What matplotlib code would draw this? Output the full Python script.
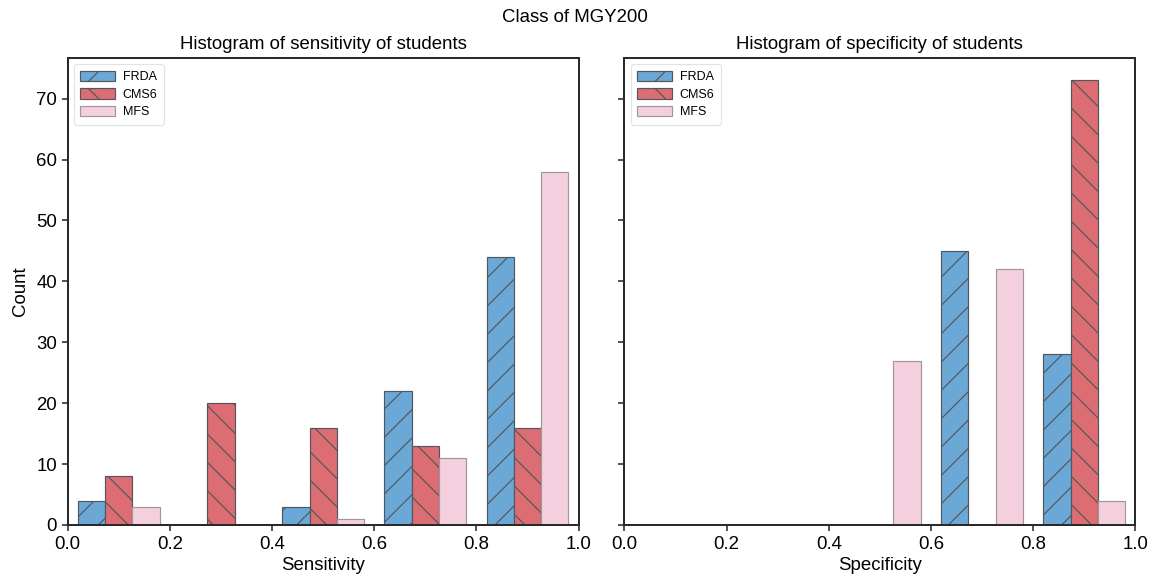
import numpy as np
import matplotlib
matplotlib.use("Agg")
import matplotlib.pyplot as plt

plt.rcParams['font.family'] = ['Liberation Sans', 'DejaVu Sans']
plt.rcParams['hatch.linewidth'] = 0.5

# data
bin_edges = [0.0, 0.2, 0.4, 0.6, 0.8, 1.0]
series = ['FRDA', 'CMS6', 'MFS']
sens_frda = [4, 0, 3, 22, 44]
sens_cms6 = [8, 20, 16, 13, 16]
sens_mfs = [3, 0, 1, 11, 58]
spec_frda = [0, 0, 0, 45, 28]
spec_cms6 = [0, 0, 0, 0, 73]
spec_mfs = [0, 0, 27, 42, 4]

colors = ['#6ca8d6', '#dc6d72', '#f4d0de']
hatches = ['//', '\\\\', '']

dpi = 170
fig, axes = plt.subplots(1, 2, sharey=True, figsize=(1149 / dpi, 582 / dpi), dpi=dpi)
fig.subplots_adjust(left=0.059, right=0.988, bottom=0.098, top=0.900, wspace=0.09)

centers = [(a + b) / 2 for a, b in zip(bin_edges[:-1], bin_edges[1:])]

panels = [
    (axes[0], [sens_frda, sens_cms6, sens_mfs], 'Histogram of sensitivity of students', 'Sensitivity'),
    (axes[1], [spec_frda, spec_cms6, spec_mfs], 'Histogram of specificity of students', 'Specificity'),
]

fs = 7.9
for ax, counts, title, xlabel in panels:
    n, b, conts = ax.hist([centers] * 3, bins=bin_edges, weights=counts,
                          color=colors, label=series, edgecolor='#50575e', linewidth=0.5)
    for cont, h, c in zip(conts, hatches, colors):
        for p in cont.patches:
            p.set_hatch(h)
            if h == '':
                p.set_edgecolor('#a0959a')
    ax.set_xlim(0, 1)
    ax.set_title(title, fontsize=fs, pad=4)
    ax.set_xlabel(xlabel, fontsize=fs, labelpad=2)
    ax.tick_params(labelsize=fs, direction='out', length=2.5, width=0.7, color='#333333', pad=2)
    for s in ax.spines.values():
        s.set_linewidth(0.85)
        s.set_color('#2a2a2a')
    leg = ax.legend(loc='upper left', fontsize=5.3, frameon=True, handlelength=2.8,
                    handleheight=0.9, handletextpad=0.6, borderpad=0.5, labelspacing=0.4,
                    fancybox=True)
    leg.get_frame().set_edgecolor('#dddddd')
    leg.get_frame().set_linewidth(0.5)

axes[0].set_ylabel('Count', fontsize=fs, labelpad=3)
axes[0].set_yticks([0, 10, 20, 30, 40, 50, 60, 70])
axes[1].tick_params(labelleft=False)
fig.suptitle('Class of MGY200', fontsize=fs, y=0.985)

fig.savefig('out.png', dpi=dpi)
